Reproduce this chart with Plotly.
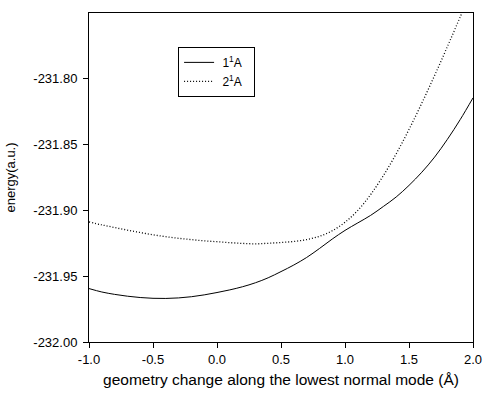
import plotly.graph_objects as go

x_vals = [-1.0, -0.9, -0.8, -0.7, -0.6, -0.5, -0.4, -0.3, -0.2, -0.1, 0.0,
          0.1, 0.2, 0.3, 0.4, 0.5, 0.6, 0.7, 0.8, 0.9, 1.0,
          1.1, 1.2, 1.3, 1.4, 1.5, 1.6, 1.7, 1.8, 1.9, 2.0]

state_1A = [-231.9594, -231.9620, -231.9638, -231.9652, -231.9662, -231.9668, -231.9669,
            -231.9665, -231.9656, -231.9642, -231.9624,
            -231.9604, -231.9580, -231.9550, -231.9512, -231.9465, -231.9415, -231.9358,
            -231.9290, -231.9218, -231.9152,
            -231.9095, -231.9038, -231.8970, -231.8898, -231.8810, -231.8710, -231.8595,
            -231.8460, -231.8310, -231.8145]

state_2A = [-231.9088, -231.9110, -231.9130, -231.9150, -231.9168, -231.9185, -231.9200,
            -231.9212, -231.9222, -231.9231, -231.9238,
            -231.9245, -231.9251, -231.9254, -231.9250, -231.9244, -231.9236, -231.9222,
            -231.9197, -231.9155, -231.9090,
            -231.9000, -231.8880, -231.8735, -231.8570, -231.8385, -231.8185, -231.7975,
            -231.7755, -231.7530, -231.7300]

names = ["\u00a01<sup>1</sup>A\u00a0\u00a0", "\u00a02<sup>1</sup>A\u00a0\u00a0"]

x_ticks = [-1.0, -0.5, 0.0, 0.5, 1.0, 1.5, 2.0]
x_ticklabels = ["-1.0", "-0.5", "0.0", "0.5", "1.0", "1.5", "2.0"]
y_ticks = [-232.00, -231.95, -231.90, -231.85, -231.80]
y_ticklabels = ["-232.00", "-231.95", "-231.90", "-231.85", "-231.80"]

fig = go.Figure()
fig.add_trace(go.Scatter(x=x_vals, y=state_1A, mode="lines", name=names[0],
                         line=dict(color="black", width=1, shape="spline", dash="solid")))
fig.add_trace(go.Scatter(x=x_vals, y=state_2A, mode="lines", name=names[1],
                         line=dict(color="black", width=1.3, shape="spline", dash="1px,2px")))

font_family = "Liberation Sans, Arial, sans-serif"
fig.update_layout(
    width=483, height=396,
    margin=dict(l=89, r=10, t=13, b=54),
    paper_bgcolor="white", plot_bgcolor="white",
    font=dict(family=font_family, size=13, color="black"),
    showlegend=True,
    legend=dict(x=0.232, y=0.897, xanchor="left", yanchor="top",
                bordercolor="black", borderwidth=1, bgcolor="white",
                font=dict(size=12), itemwidth=30, tracegroupgap=0),
    xaxis=dict(range=[-1.0, 2.0], tickvals=x_ticks, ticktext=x_ticklabels,
               automargin=False,
               showgrid=False, zeroline=False, showline=True, linecolor="black",
               linewidth=1, mirror=True, ticks="outside", ticklen=5, tickcolor="black",
               title=dict(text="geometry change along the lowest normal mode (Å)",
                          font=dict(size=15.5), standoff=8)),
    yaxis=dict(range=[-232.0, -231.75], tickvals=y_ticks, ticktext=y_ticklabels,
               automargin=False,
               showgrid=False, zeroline=False, showline=True, linecolor="black",
               linewidth=1, mirror=True, ticks="outside", ticklen=5, tickcolor="black",
               ticklabelstandoff=3,
               title=dict(text="energy(a.u.)", font=dict(size=13), standoff=14)),
)

fig.write_html("out.html", config={"displayModeBar": False},
               post_script="document.body.style.margin='0px';")
